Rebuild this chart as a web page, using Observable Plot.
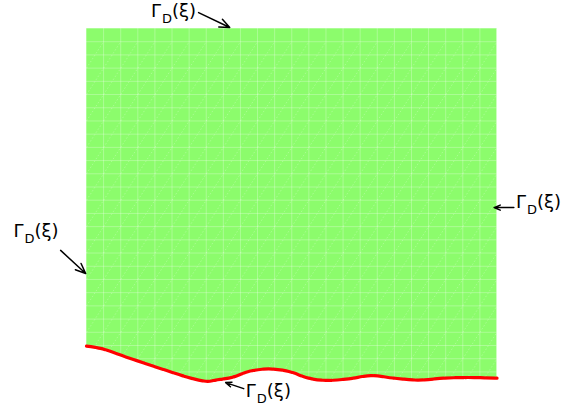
<!DOCTYPE html>
<html>
<head>
<meta charset="utf-8">
<script src="https://cdn.jsdelivr.net/npm/d3@7"></script>
<script src="https://cdn.jsdelivr.net/npm/@observablehq/plot@0.6"></script>
<style>
  html, body { margin: 0; padding: 0; background: white; }
  #chart svg { overflow: visible; display: block; }
</style>
</head>
<body>
<div id="chart"></div>
<script>
// Bottom boundary of the domain (x from 0 to 1, top edge at y = 1)
const boundaryX = [0, 0.034, 0.107, 0.188, 0.254, 0.295, 0.315, 0.356, 0.395, 0.444, 0.493, 0.541, 0.583, 0.639, 0.693, 0.749, 0.807, 0.871, 0.929, 1];
const boundaryY = [-0.002, -0.009, -0.041, -0.076, -0.103, -0.113, -0.109, -0.100, -0.082, -0.074, -0.082, -0.103, -0.110, -0.105, -0.095, -0.103, -0.109, -0.103, -0.101, -0.103];
const topY = 1;

// Annotation labels "Γ_D(ξ)" and their arrows
const labelText = ["Γ|D|(ξ)", "Γ|D|(ξ)", "Γ|D|(ξ)", "Γ|D|(ξ)"];
const labelX = [0.157, 1.046, -0.178, 0.388];
const labelY = [1.035, 0.435, 0.341, -0.164];
const arrowX1 = [0.273, 1.041, -0.063, 0.383];
const arrowY1 = [1.050, 0.435, 0.300, -0.136];
const arrowX2 = [0.349, 0.993, -0.002, 0.339];
const arrowY2 = [1.003, 0.435, 0.227, -0.117];

const boundary = boundaryX.map((x, i) => ({x, y: boundaryY[i]}));
const labels = labelText.map((t, i) => ({t, x: labelX[i], y: labelY[i]}));
const arrows = arrowX1.map((x1, i) => ({x1, y1: arrowY1[i], x2: arrowX2[i], y2: arrowY2[i]}));

// faint mesh texture
const meshCols = d3.range(0, 1.0001, 1 / 24);
const meshRows = d3.range(-0.125, 1.0001, 1 / 24);
const meshDiag = [];
for (let i = 0; i + 1 < meshCols.length; i++) {
  for (let j = 0; j + 2 < meshRows.length; j += 2) {
    meshDiag.push({x1: meshCols[i], y1: meshRows[j], x2: meshCols[i + 1], y2: meshRows[j + 2]});
  }
}

const plot = Plot.plot({
  width: 563,
  height: 414,
  marginLeft: 86,
  marginRight: 66.5,
  marginTop: 28,
  marginBottom: 69,
  x: {domain: [0, 1], axis: null},
  y: {domain: [0, 1], axis: null},
  style: {background: "white", fontFamily: "DejaVu Sans"},
  marks: [
    Plot.areaY(boundary, {x: "x", y1: "y", y2: topY, fill: "#8cfc6c", curve: "catmull-rom"}),
    Plot.ruleX(meshCols, {y1: -0.13, y2: topY, stroke: "white", strokeOpacity: 0.28, strokeWidth: 1}),
    Plot.ruleY(meshRows, {x1: 0, x2: 1, stroke: "white", strokeOpacity: 0.28, strokeWidth: 1}),
    Plot.link(meshDiag, {x1: "x1", y1: "y1", x2: "x2", y2: "y2", stroke: "white", strokeOpacity: 0.25, strokeDasharray: "1.5,2"}),
    Plot.areaY(boundary, {x: "x", y1: "y", y2: -0.3, fill: "white", curve: "catmull-rom"}),
    Plot.line(boundary, {x: "x", y: "y", stroke: "#ff0000", strokeWidth: 3.2, strokeDasharray: "9,1.2", curve: "catmull-rom"}),
    Plot.arrow(arrows, {x1: "x1", y1: "y1", x2: "x2", y2: "y2", stroke: "black", strokeWidth: 1.5, headLength: 11, headAngle: 45}),
    Plot.text(labels, {x: "x", y: "y", text: "t", textAnchor: "start", fontSize: 18, fill: "black"})
  ]
});

// render Γ with subscript D
plot.querySelectorAll('g[aria-label="text"] text').forEach(t => {
  const parts = t.textContent.split("|");
  t.removeAttribute("dy");
  const ya = t.getAttribute("y");
  if (ya && ya.endsWith("em")) t.setAttribute("y", "0");
  t.textContent = "";
  const ns = "http://www.w3.org/2000/svg";
  const a = document.createElementNS(ns, "tspan");
  a.textContent = parts[0];
  a.setAttribute("font-size", "18");
  const b = document.createElementNS(ns, "tspan");
  b.textContent = parts[1];
  b.setAttribute("font-size", "13");
  b.setAttribute("dy", "6");
  b.setAttribute("dx", "1");
  const c = document.createElementNS(ns, "tspan");
  c.textContent = parts[2];
  c.setAttribute("font-size", "18");
  c.setAttribute("dy", "-6");
  t.append(a, b, c);
});

document.getElementById("chart").append(plot);
</script>
</body>
</html>
